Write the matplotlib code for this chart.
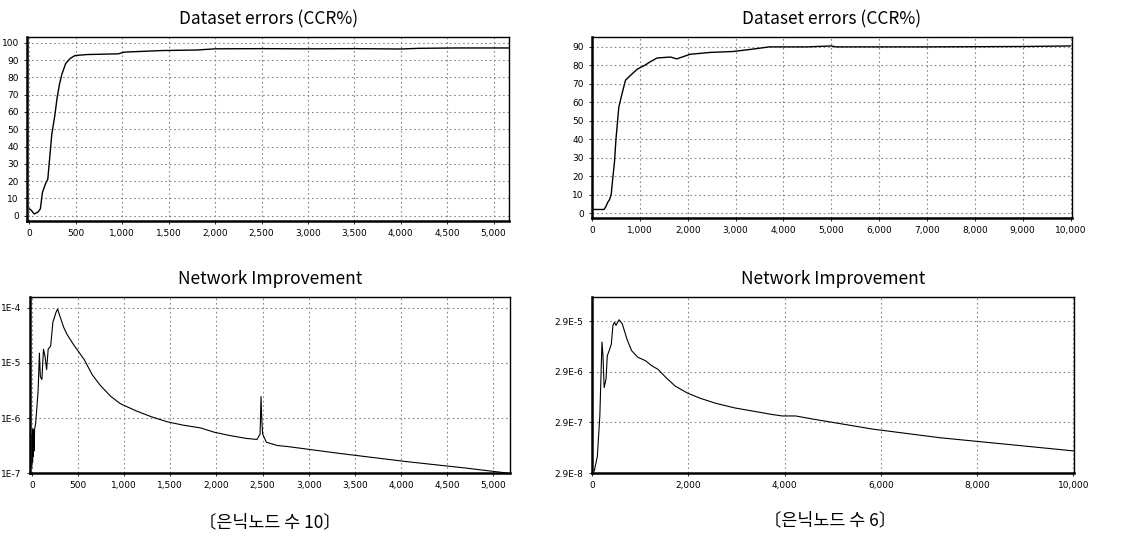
import numpy as np
import matplotlib.pyplot as plt
from matplotlib.ticker import FixedLocator, FuncFormatter

plt.rcParams['font.family'] = ['DejaVu Sans']

# hidden nodes = 10, CCR%
ccr10_x = [0, 17, 50, 90, 117, 140, 173, 197, 217, 240, 273, 297, 323, 350, 390, 440,
           490, 623, 957, 1023, 1423, 1800, 2000, 2500, 3000, 3500, 4000, 4200, 4600, 5170]
ccr10_y = [3.9, 3.3, 1.0, 2.0, 3.9, 13.6, 18.5, 21, 33, 47, 58, 68, 76, 82, 88, 91,
           92.6, 93.2, 93.6, 94.6, 95.5, 95.8, 96.5, 96.6, 96.5, 96.6, 96.4, 96.8, 97, 97]

# hidden nodes = 6, CCR%
ccr6_x = [0, 250, 290, 330, 360, 400, 430, 470, 500, 560, 630, 700, 820, 950, 1100, 1220, 1360,
          1640, 1770, 2050, 2470, 2950, 3300, 3710, 4500, 5000, 5100, 7000, 9000, 10000]
ccr6_y = [2, 2, 3.6, 6, 7, 10, 18, 28, 40, 57.5, 65, 72, 75, 78, 80, 82, 84,
          84.5, 83.5, 86, 87, 87.5, 88.6, 90, 90, 90.5, 90, 90, 90.2, 90.5]

# hidden nodes = 10, network improvement (log10)
imp10_x = [0, 4, 8, 12, 16, 20, 24, 30, 41, 55, 68, 82, 92, 109, 126, 143, 160, 177, 204, 228,
           262, 279, 296, 347, 381, 449, 517, 568, 653, 738, 857, 959, 1129, 1299, 1469, 1640,
           1827, 1980, 2150, 2320, 2439, 2473, 2483, 2490, 2500, 2541, 2660, 2779, 3317, 4047,
           4704, 5150]
imp10_y = [-6.9, -6.3, -6.8, -6.2, -6.7, -6.3, -6.6, -6.2, -6.1, -5.8, -5.5, -4.82, -5.25, -5.3,
           -4.75, -4.88, -5.12, -4.75, -4.69, -4.26, -4.08, -4.02, -4.11, -4.36, -4.48, -4.66,
           -4.82, -4.94, -5.21, -5.40, -5.61, -5.74, -5.87, -5.98, -6.07, -6.13, -6.18, -6.26,
           -6.32, -6.37, -6.39, -6.29, -5.61, -5.98, -6.29, -6.44, -6.50, -6.52, -6.64, -6.79,
           -6.91, -7.0]

# hidden nodes = 6, network improvement (log10)
imp6_x = [45, 110, 162, 188, 207, 227, 252, 291, 317, 356, 401, 434, 466, 498, 531, 563, 628,
          725, 822, 951, 1113, 1243, 1372, 1534, 1728, 1987, 2246, 2570, 2958, 3735, 3951, 4230,
          4578, 5833, 7226, 8620, 10000]
imp6_y = [-7.50, -7.21, -6.41, -5.55, -4.95, -5.22, -5.85, -5.68, -5.22, -5.12, -4.99, -4.62,
          -4.56, -4.62, -4.56, -4.51, -4.59, -4.89, -5.12, -5.25, -5.32, -5.42, -5.49, -5.65,
          -5.82, -5.96, -6.06, -6.16, -6.25, -6.38, -6.41, -6.41, -6.47, -6.67, -6.84, -6.97,
          -7.10]

title_font = dict(family=['Noto Sans CJK KR', 'DejaVu Sans'], fontsize=12.5)


def style(ax):
    ax.grid(True, color='#888888', linestyle=(0, (1.5, 2.5)), linewidth=0.8)
    for s in ax.spines.values():
        s.set_color('black')
        s.set_linewidth(1.0)
    ax.spines['left'].set_linewidth(1.8)
    ax.spines['bottom'].set_linewidth(1.8)
    ax.tick_params(labelsize=6.5, length=2, width=0.6, pad=4)


fig = plt.figure(figsize=(11.32, 5.4), dpi=100)

ax1 = fig.add_axes([0.024, 0.591, 0.426, 0.341])
ax1.plot(ccr10_x, ccr10_y, color='black', linewidth=1.0)
ax1.set_xlim(-25, 5170)
ax1.set_ylim(-3, 103.5)
ax1.set_xticks(np.arange(0, 5001, 500))
ax1.set_yticks(np.arange(0, 101, 10))
ax1.xaxis.set_major_formatter(FuncFormatter(lambda v, p: '{:,}'.format(int(v))))
style(ax1)
ax1.set_title('Dataset errors (CCR%)', pad=9, **title_font)

ax2 = fig.add_axes([0.523, 0.596, 0.424, 0.336])
ax2.plot(ccr6_x, ccr6_y, color='black', linewidth=1.0)
ax2.set_xlim(0, 10030)
ax2.set_ylim(-2.7, 95.5)
ax2.set_xticks(np.arange(0, 10001, 1000))
ax2.set_yticks(np.arange(0, 91, 10))
ax2.xaxis.set_major_formatter(FuncFormatter(lambda v, p: '{:,}'.format(int(v))))
style(ax2)
ax2.set_title('Dataset errors (CCR%)', pad=9, **title_font)

ax3 = fig.add_axes([0.0265, 0.124, 0.424, 0.326])
ax3.plot(imp10_x, 10 ** np.array(imp10_y), color='black', linewidth=0.8)
ax3.set_yscale('log')
ax3.set_xlim(-20, 5180)
ax3.set_ylim(1e-7, 1.58e-4)
ax3.set_xticks(np.arange(0, 5001, 500))
ax3.yaxis.set_major_locator(FixedLocator([1e-7, 1e-6, 1e-5, 1e-4]))
ax3.yaxis.set_minor_locator(FixedLocator([]))
ax3.yaxis.set_major_formatter(FuncFormatter(lambda v, p: '1E{:d}'.format(int(round(np.log10(v))))))
ax3.xaxis.set_major_formatter(FuncFormatter(lambda v, p: '{:,}'.format(int(v))))
style(ax3)
ax3.set_title('Network Improvement', pad=9, **title_font)

ax4 = fig.add_axes([0.523, 0.124, 0.426, 0.326])
ax4.plot(imp6_x, 10 ** np.array(imp6_y), color='black', linewidth=0.8)
ax4.set_yscale('log')
ax4.set_xlim(0, 10020)
ax4.set_ylim(2.9e-8, 8.7e-5)
ax4.set_xticks(np.arange(0, 10001, 2000))
ax4.yaxis.set_major_locator(FixedLocator([2.9e-8, 2.9e-7, 2.9e-6, 2.9e-5]))
ax4.yaxis.set_minor_locator(FixedLocator([]))
ax4.yaxis.set_major_formatter(FuncFormatter(lambda v, p: '2.9E{:d}'.format(int(round(np.log10(v / 2.9))))))
ax4.xaxis.set_major_formatter(FuncFormatter(lambda v, p: '{:,}'.format(int(v))))
style(ax4)
ax4.set_title('Network Improvement', pad=9, **title_font)

fig.text(270 / 1132, 1 - 522 / 540, '〔은닉노드 수 10〕', ha='center', va='center',
         family=['Noto Sans CJK KR', 'DejaVu Sans'], fontsize=12.5)
fig.text(830 / 1132, 1 - 520 / 540, '〔은닉노드 수 6〕', ha='center', va='center',
         family=['Noto Sans CJK KR', 'DejaVu Sans'], fontsize=12.5)

fig.savefig('out.png', dpi=100)
